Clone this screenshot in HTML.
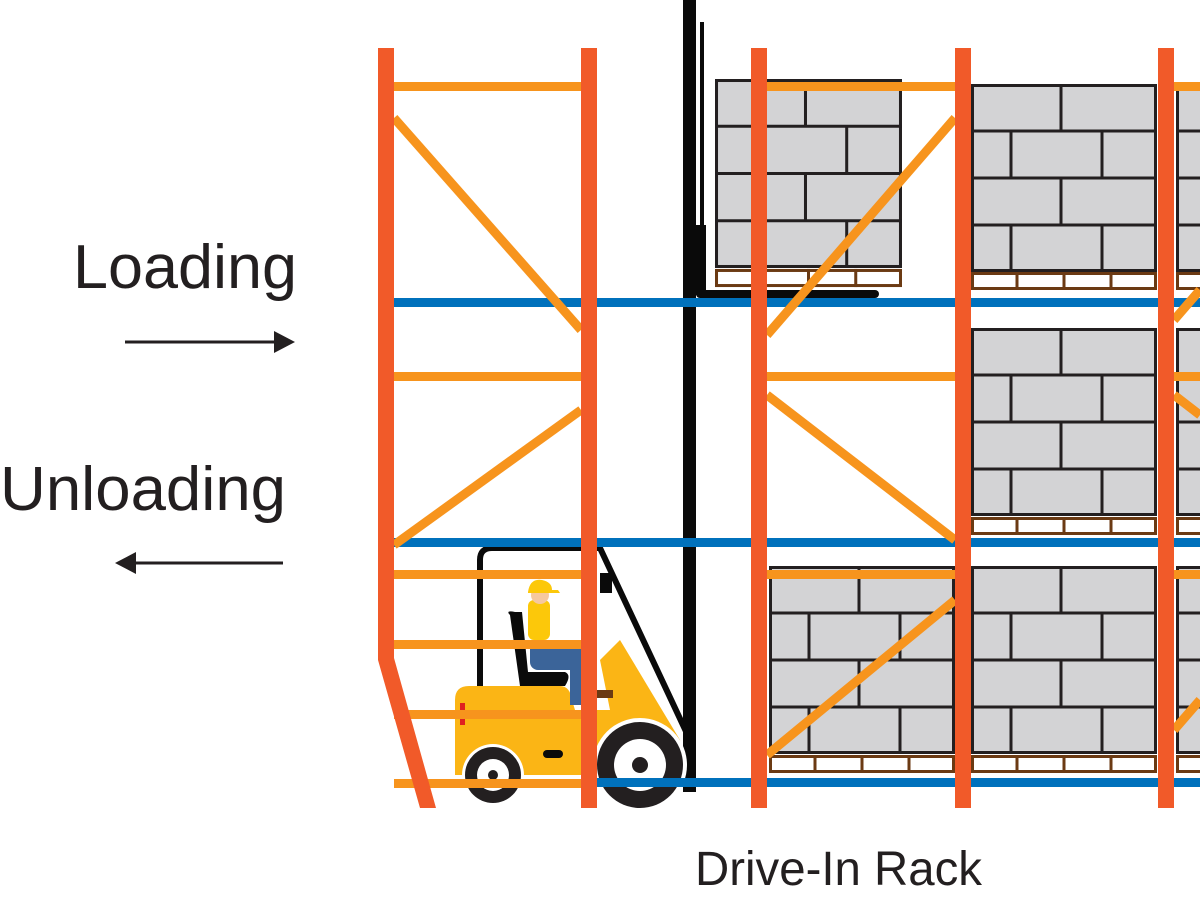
<!DOCTYPE html>
<html><head><meta charset="utf-8"><style>
html,body{margin:0;padding:0;background:#fff;width:1200px;height:900px;overflow:hidden}
svg{display:block}
text{font-family:"Liberation Sans",sans-serif;fill:#231f20}
</style></head><body>
<svg width="1200" height="900" viewBox="0 0 1200 900" xmlns="http://www.w3.org/2000/svg">
<defs>
<symbol id="box" viewBox="0 0 186 188">
<rect x="1.5" y="1.5" width="183" height="185" fill="#d3d3d5" stroke="#231f20" stroke-width="3"/>
<g stroke="#231f20" stroke-width="3">
<line x1="0" y1="47" x2="186" y2="47"/><line x1="0" y1="94" x2="186" y2="94"/><line x1="0" y1="141" x2="186" y2="141"/>
<line x1="90" y1="0" x2="90" y2="47"/><line x1="40" y1="47" x2="40" y2="94"/><line x1="131" y1="47" x2="131" y2="94"/>
<line x1="90" y1="94" x2="90" y2="141"/><line x1="40" y1="141" x2="40" y2="188"/><line x1="131" y1="141" x2="131" y2="188"/>
</g>
</symbol>
<symbol id="pal" viewBox="0 0 186 18">
<rect x="1.5" y="1.5" width="183" height="15" fill="#fff" stroke="#6b3a13" stroke-width="3"/>
<g stroke="#6b3a13" stroke-width="3"><line x1="46" y1="0" x2="46" y2="18"/><line x1="93" y1="0" x2="93" y2="18"/><line x1="140" y1="0" x2="140" y2="18"/></g>
</symbol>
</defs>

<text x="73" y="288" font-size="62" textLength="224" lengthAdjust="spacingAndGlyphs">Loading</text>
<text x="0" y="510" font-size="62" textLength="286" lengthAdjust="spacingAndGlyphs">Unloading</text>
<text x="695" y="885" font-size="48" textLength="287" lengthAdjust="spacingAndGlyphs">Drive-In Rack</text>
<line x1="125" y1="342" x2="276" y2="342" stroke="#231f20" stroke-width="3"/>
<polygon points="295,342 274,331 274,353" fill="#231f20"/>
<line x1="135" y1="563" x2="283" y2="563" stroke="#231f20" stroke-width="3"/>
<polygon points="115,563 136,552 136,574" fill="#231f20"/>

<use href="#box" x="715" y="79" width="187" height="189"/>
<use href="#pal" x="715" y="268" width="187" height="20"/>
<use href="#box" x="971" y="84" width="186" height="188"/>
<use href="#pal" x="971" y="272" width="186" height="18"/>
<use href="#box" x="971" y="328" width="186" height="188"/>
<use href="#pal" x="971" y="517" width="186" height="18"/>
<use href="#box" x="971" y="566" width="186" height="188"/>
<use href="#pal" x="971" y="755" width="186" height="18"/>
<use href="#box" x="769" y="566" width="186" height="188"/>
<use href="#pal" x="769" y="755" width="186" height="18"/>
<use href="#box" x="1176" y="84" width="186" height="188"/>
<use href="#pal" x="1176" y="272" width="186" height="18"/>
<use href="#box" x="1176" y="328" width="186" height="188"/>
<use href="#pal" x="1176" y="517" width="186" height="18"/>
<use href="#box" x="1176" y="566" width="186" height="188"/>
<use href="#pal" x="1176" y="755" width="186" height="18"/>

<rect x="683" y="0" width="13" height="792" fill="#0a0a0a"/>
<rect x="700" y="22" width="4" height="270" fill="#0a0a0a"/>
<rect x="696" y="225" width="10" height="70" fill="#0a0a0a"/>
<rect x="696" y="290" width="183" height="8" rx="4" fill="#0a0a0a"/>

<!-- forklift (behind rack) -->
<g>
<path d="M480 690 V560 Q480 548 492 548 H600 L690 740" fill="none" stroke="#0a0a0a" stroke-width="6"/>
<rect x="600" y="573" width="12" height="20" fill="#0a0a0a"/>
<path d="M455 700 Q455 686 469 686 H560 Q570 686 572 700 L575 710 H610 L600 660 L620 640 L680 740 L685 775 H455 Z" fill="#fbb515"/>
<rect x="460" y="703" width="5" height="22" fill="#e02020"/>
<rect x="543" y="750" width="20" height="8" rx="4" fill="#0a0a0a"/>
<path d="M510 615 Q505 610 515 612 L522 612 L528 672 H565 Q572 675 565 686 H520 Z" fill="#0a0a0a"/>
<rect x="528" y="600" width="22" height="40" rx="6" fill="#fcc80a"/>
<rect x="530" y="640" width="55" height="30" rx="8" fill="#3b6499"/>
<rect x="570" y="650" width="14" height="55" fill="#3b6499"/>
<rect x="595" y="690" width="18" height="8" fill="#6b3a13"/>
<circle cx="540" cy="595" r="9" fill="#f6c89f"/>
<path d="M528 592 Q530 578 542 580 Q552 582 552 590 H558 L560 593 H528Z" fill="#fcc80a"/>
<circle cx="493" cy="775" r="31" fill="#fff"/>
<circle cx="493" cy="775" r="28" fill="#231f20"/>
<circle cx="493" cy="775" r="16" fill="#fff"/>
<circle cx="493" cy="775" r="5" fill="#231f20"/>
<circle cx="640" cy="765" r="47" fill="#fff"/>
<circle cx="640" cy="765" r="43" fill="#231f20"/>
<circle cx="640" cy="765" r="26" fill="#fff"/>
<circle cx="640" cy="765" r="8" fill="#231f20"/>
</g>

<g fill="#0071bc">
<rect x="394" y="298" width="806" height="9"/>
<rect x="394" y="538" width="806" height="9"/>
<rect x="597" y="778" width="603" height="9"/>
</g>

<g fill="#f7941d">
<rect x="394" y="82" width="187" height="9"/>
<rect x="394" y="372" width="187" height="9"/>
<rect x="394" y="570" width="187" height="9"/>
<rect x="394" y="640" width="187" height="9"/>
<rect x="394" y="710" width="187" height="9"/>
<rect x="394" y="779" width="187" height="9"/>
<rect x="767" y="82" width="188" height="9"/>
<rect x="767" y="372" width="188" height="9"/>
<rect x="767" y="570" width="188" height="9"/>
<rect x="1174" y="82" width="26" height="9"/>
<rect x="1174" y="372" width="26" height="9"/>
<rect x="1174" y="570" width="26" height="9"/>
</g>
<g stroke="#f7941d" stroke-width="9">
<line x1="394" y1="118" x2="581" y2="330"/>
<line x1="581" y1="410" x2="394" y2="545"/>
<line x1="955" y1="118" x2="767" y2="335"/>
<line x1="767" y1="395" x2="955" y2="540"/>
<line x1="955" y1="600" x2="767" y2="755"/>
<line x1="1200" y1="290" x2="1174" y2="320"/>
<line x1="1174" y1="395" x2="1200" y2="415"/>
<line x1="1200" y1="700" x2="1174" y2="730"/>
</g>

<g fill="#f15a29">
<path d="M378 48 H394 V658 L436 808 H420 L378 660 Z"/>
<rect x="581" y="48" width="16" height="760"/>
<rect x="751" y="48" width="16" height="760"/>
<rect x="955" y="48" width="16" height="760"/>
<rect x="1158" y="48" width="16" height="760"/>
</g>
</svg>
</body></html>
